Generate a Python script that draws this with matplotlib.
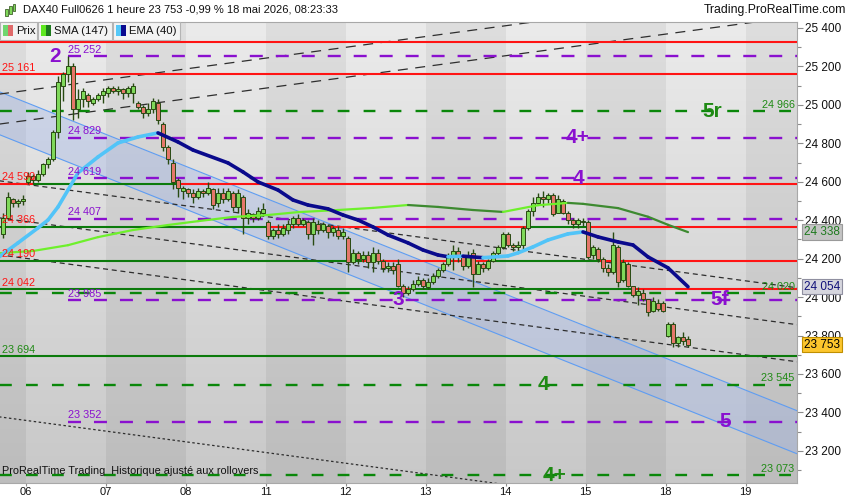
#!/usr/bin/env python3
"""DAX40 hourly chart with Elliott counts, flip levels and trend channel."""
import numpy as np
import matplotlib
matplotlib.use("Agg")
import matplotlib.pyplot as plt
from matplotlib.collections import LineCollection
from matplotlib.colors import LinearSegmentedColormap
from matplotlib.patches import Rectangle
from matplotlib.ticker import FuncFormatter

plt.rcParams["font.family"] = ["Liberation Sans", "DejaVu Sans"]

W, H = 850, 500

# sessions shown (05 and 18 are partial), 16 hourly bars per full session
DAY_LABELS = ["05", "06", "07", "08", "11", "12", "13", "14", "15", "18", "19"]
DAY_COUNTS = [5, 16, 16, 16, 16, 16, 16, 16, 16, 5]
PER_DAY = 16

opens = [
    24330, 24410, 24510, 24490, 24500,
    24600, 24630, 24610, 24640, 24690, 24720, 24860, 25100, 25160, 25200, 24980, 25030, 25050, 25010, 25030, 25050,
    25060, 25090, 25070, 25080, 25060, 25060, 25010, 24990, 24960, 24980, 25010, 24900, 24780, 24700, 24610, 24550,
    24560, 24540, 24520, 24550, 24540, 24560, 24490, 24540, 24510, 24540, 24470, 24520, 24410, 24430, 24410, 24440,
    24390, 24320, 24350, 24330, 24350, 24380, 24410, 24380, 24390, 24330, 24380, 24350, 24370, 24340, 24350, 24320,
    24310, 24180, 24230, 24200, 24220, 24180, 24230, 24190, 24150, 24160, 24170, 24060, 24020, 24040, 24070, 24090,
    24050, 24080, 24110, 24140, 24170, 24220, 24240, 24210, 24160, 24230, 24120, 24170, 24150, 24190, 24230, 24260,
    24330, 24270, 24260, 24270, 24360, 24450, 24490, 24520, 24510, 24530, 24440, 24500, 24440, 24400, 24380, 24390,
    24390, 24220, 24250, 24200, 24150, 24130, 24260, 24090, 24170, 24060, 24010, 24020, 23990, 23930, 23970, 23970,
    23800, 23860, 23760, 23790, 23780,
]
highs = [
    24440, 24545, 24515, 24510, 24530,
    24650, 24640, 24660, 24700, 24730, 24870, 25150, 25170, 25252, 25220, 25080, 25090, 25060, 25040, 25060, 25090,
    25100, 25100, 25100, 25090, 25100, 25114, 25020, 25000, 25010, 25035, 25030, 24910, 24790, 24720, 24620, 24580,
    24570, 24560, 24570, 24560, 24600, 24570, 24570, 24570, 24570, 24550, 24560, 24530, 24460, 24440, 24470, 24490,
    24400, 24360, 24380, 24380, 24400, 24420, 24430, 24410, 24400, 24410, 24400, 24390, 24380, 24370, 24370, 24360,
    24320, 24250, 24240, 24240, 24240, 24260, 24250, 24200, 24180, 24180, 24200, 24070, 24060, 24090, 24110, 24100,
    24100, 24125, 24150, 24180, 24230, 24270, 24260, 24220, 24240, 24250, 24190, 24180, 24200, 24240, 24270, 24340,
    24340, 24280, 24290, 24370, 24460, 24520, 24540, 24550, 24540, 24540, 24530, 24510, 24450, 24410, 24410, 24410,
    24400, 24270, 24260, 24210, 24170, 24340, 24270, 24200, 24180, 24060, 24050, 24040, 23990, 24000, 23990, 23980,
    23870, 23870, 23800, 23820, 23800,
]
lows = [
    24310, 24400, 24470, 24470, 24480,
    24590, 24590, 24600, 24630, 24670, 24710, 24830, 25020, 25120, 24920, 24930, 24990, 24990, 25000, 25020, 25010,
    25040, 25060, 25050, 25030, 25040, 25010, 24980, 24930, 24940, 24960, 24900, 24760, 24690, 24560, 24520, 24510,
    24520, 24490, 24510, 24520, 24530, 24460, 24470, 24490, 24500, 24450, 24440, 24330, 24380, 24390, 24400, 24420,
    24300, 24300, 24310, 24320, 24330, 24360, 24370, 24370, 24300, 24270, 24330, 24340, 24310, 24320, 24300, 24300,
    24130, 24170, 24170, 24180, 24150, 24130, 24170, 24130, 24130, 24120, 24050, 24000, 24010, 24030, 24060, 24040,
    24040, 24070, 24100, 24130, 24160, 24140, 24180, 24140, 24150, 24050, 24120, 24130, 24140, 24180, 24220, 24250,
    24260, 24240, 24230, 24250, 24350, 24420, 24480, 24470, 24490, 24420, 24440, 24430, 24380, 24360, 24360, 24370,
    24200, 24200, 24180, 24130, 24110, 24120, 24050, 24080, 24050, 24000, 23960, 23980, 23900, 23920, 23930, 23920,
    23790, 23740, 23740, 23750, 23740,
]
closes = [
    24410, 24520, 24490, 24500, 24510,
    24630, 24610, 24640, 24690, 24720, 24860, 25120, 25160, 25200, 24980, 25030, 25070, 25020, 25030, 25050, 25070,
    25090, 25070, 25080, 25060, 25090, 25100, 24990, 24960, 24980, 25020, 24920, 24780, 24720, 24600, 24570, 24570,
    24540, 24520, 24550, 24540, 24570, 24480, 24540, 24510, 24550, 24470, 24540, 24410, 24440, 24410, 24450, 24460,
    24320, 24350, 24330, 24360, 24380, 24410, 24380, 24400, 24330, 24390, 24350, 24380, 24340, 24360, 24320, 24340,
    24180, 24230, 24200, 24220, 24180, 24230, 24190, 24150, 24160, 24140, 24060, 24020, 24040, 24070, 24090, 24060,
    24080, 24110, 24140, 24170, 24220, 24240, 24210, 24160, 24220, 24120, 24170, 24150, 24190, 24230, 24260, 24330,
    24270, 24260, 24270, 24360, 24450, 24490, 24520, 24510, 24530, 24430, 24510, 24440, 24400, 24380, 24400, 24395,
    24210, 24260, 24200, 24150, 24130, 24270, 24080, 24180, 24060, 24010, 24030, 23990, 23920, 23980, 23940, 23930,
    23860, 23760, 23790, 23770, 23753,
]

# moving averages at selected bars
sma_slot = [-6, 1, 8, 14, 21, 28, 34, 41, 48, 54, 62, 69, 76, 82, 89, 95, 102, 108, 111, 118, 124, 128, 132]
sma_val = [24228, 24240, 24270, 24312, 24349, 24375, 24395, 24417, 24427, 24442, 24453, 24464, 24479, 24469,
           24453, 24443, 24478, 24490, 24485, 24463, 24418, 24376, 24338]
ema_slot = [-6, -2, 2, 4, 6, 8, 10, 14, 18, 22, 26, 30, 33, 40, 43, 46, 50, 53, 56, 60, 63, 66, 69, 72, 76, 79,
            82, 84, 87, 91, 96, 98, 101, 104, 108, 111, 114, 118, 121, 124, 128, 132]
ema_val = [24205, 24282, 24360, 24401, 24469, 24557, 24646, 24729, 24802, 24833, 24854, 24807, 24765, 24698,
           24651, 24599, 24557, 24505, 24479, 24459, 24427, 24401, 24365, 24323, 24282, 24245, 24219, 24210,
           24213, 24205, 24214, 24230, 24261, 24297, 24329, 24339, 24313, 24287, 24271, 24209, 24152, 24054]

# horizontal levels
red_levels = [25327, 25161]
green_levels = [23694]
flip_levels = [24590, 24366, 24190, 24042]
flip_breaks = [[1, 30], [47.6, 100.4, 111.8], [66.8, 92.4, 114.4], [74.8, 76.4, 121]]
flip_first_above = [False, True, True, True]
left_labels = [25161, 24590, 24366, 24190, 24042, 23694]
purple_levels = [25252, 24829, 24619, 24407, 23985, 23352]
green_dash_levels = [24966, 24020, 23545, 23073]

purple_counts = ["2", "4+", "4", "3", "5f", "5"]
purple_count_slot = [5.4, 110, 110, 74, 138.4, 139.4]
purple_count_level = [25252, 24829, 24619, 23985, 23985, 23352]
green_counts = ["5r", "4", "4+"]
green_count_slot = [136.8, 103, 105.4]
green_count_level = [24966, 23545, 23073]

# trend lines, price at the left (-6) and right (154) bar positions
trend_x = [-6, 154]
falling_start = [24606, 24413, 24221, 23378]
falling_end = [24048, 23856, 23663, 22821]
rising_start = [25055, 24899]
rising_end = [25617, 25461]
channel_upper = [25071, 23407]
channel_lower = [24848, 23183]

RED = "#ff1414"
GREEN = "#0b7a0b"
GREEN_TXT = "#1f8a14"
PURPLE = "#8a10cf"
EDGE = "#284a12"


def fmt(v):
    return f"{int(round(v)):,}".replace(",", " ")


def slope_line(ax, xs, vs, rising, falling, lw):
    pts = np.column_stack([xs, vs])
    segs = np.stack([pts[:-1], pts[1:]], axis=1)
    cols = [rising if b >= a else falling for a, b in zip(vs[:-1], vs[1:])]
    ax.add_collection(LineCollection(segs, colors=cols, linewidths=lw,
                                     capstyle="round", joinstyle="round", zorder=7))


fig = plt.figure(figsize=(W / 100, H / 100), dpi=100)
fig.patch.set_facecolor("white")
ax = fig.add_axes([0, 1 - 483 / H, 797 / W, (483 - 22) / H])
x_lo, x_hi = -5.6, 153.8
y_lo, y_hi = 23033, 25431

bg = LinearSegmentedColormap.from_list("bg", ["#c8c8c8", "#ebebeb"])
ax.imshow(np.linspace(0, 1, 256).reshape(-1, 1), cmap=bg, origin="lower", aspect="auto",
          extent=(x_lo, x_hi, y_lo, y_hi), zorder=0)

# alternate session shading
for j in range(len(DAY_LABELS)):
    start = x_lo if j == 0 else (j - 1) * PER_DAY - 0.5
    end = x_hi if j == len(DAY_LABELS) - 1 else j * PER_DAY - 0.5
    if j % 2 == 0:
        ax.axvspan(start, end, color="black", alpha=0.055, lw=0, zorder=0.5)

# regression channel
ax.fill_between(trend_x, channel_lower, channel_upper, color="#98b0ec", alpha=0.33, lw=0, zorder=1)
ax.plot(trend_x, channel_upper, color="#5f9df2", lw=0.8, zorder=1.2)
ax.plot(trend_x, channel_lower, color="#5f9df2", lw=0.8, zorder=1.2)

# dashed trend lines
for a, b in zip(falling_start[:3], falling_end[:3]):
    ax.plot(trend_x, [a, b], color="#2e2e2e", lw=0.9, ls=(0, (4, 3)), zorder=2)
ax.plot(trend_x, [falling_start[3], falling_end[3]], color="#2e2e2e", lw=0.9, ls=(0, (2, 2)), zorder=2)
for a, b in zip(rising_start, rising_end):
    ax.plot(trend_x, [a, b], color="#2e2e2e", lw=0.9, ls=(0, (8, 6)), zorder=2)

# horizontal levels
for lv in red_levels:
    ax.hlines(lv, x_lo, x_hi, color=RED, lw=1.5, zorder=3)
for lv in green_levels:
    ax.hlines(lv, x_lo, x_hi, color=GREEN, lw=1.5, zorder=3)
for lv, brk, above in zip(flip_levels, flip_breaks, flip_first_above):
    edges = [x_lo] + brk + [x_hi]
    for s, e in zip(edges[:-1], edges[1:]):
        ax.hlines(lv, s, e, color=GREEN if above else RED, lw=1.5, zorder=3)
        above = not above
for lv in purple_levels:
    ax.hlines(lv, 8, x_hi, color=PURPLE, lw=1.7, ls=(0, (5.5, 5.5)), zorder=3)
for lv in green_dash_levels:
    ax.hlines(lv, x_lo, x_hi, color="#0a870a", lw=1.7, ls=(0, (5, 6)), zorder=3)

# level labels
for lv in left_labels:
    col = GREEN_TXT if lv in green_levels else RED
    ax.annotate(fmt(lv), xy=(0.003, lv), xycoords=("axes fraction", "data"), xytext=(0, 1),
                textcoords="offset points", ha="left", va="bottom", fontsize=7.8, color=col, zorder=9)
for lv in purple_levels:
    ax.annotate(fmt(lv), xy=(8, lv), xytext=(0, 1), textcoords="offset points",
                ha="left", va="bottom", fontsize=7.8, color=PURPLE, zorder=9)
for lv in green_dash_levels:
    ax.annotate(fmt(lv), xy=(0.997, lv), xycoords=("axes fraction", "data"), xytext=(0, 1),
                textcoords="offset points", ha="right", va="bottom", fontsize=7.8, color=GREEN_TXT, zorder=9)

for t, s, lv in zip(purple_counts, purple_count_slot, purple_count_level):
    ax.text(s, lv, t, ha="center", va="center", fontsize=15, weight="bold", color=PURPLE, zorder=9)
for t, s, lv in zip(green_counts, green_count_slot, green_count_level):
    ax.text(s, lv, t, ha="center", va="center", fontsize=15, weight="bold", color=GREEN_TXT, zorder=9)

# candles
slots = []
for j, n in enumerate(DAY_COUNTS):
    if j == 0:
        slots += list(range(-n, 0))
    else:
        slots += [(j - 1) * PER_DAY + k for k in range(n)]
slots = np.array(slots)
o, hi, lo, c = (np.array(a, dtype=float) for a in (opens, highs, lows, closes))
up = c >= o
ax.vlines(slots, lo, hi, color=EDGE, lw=1.0, zorder=4)
ax.bar(slots, np.maximum(np.abs(c - o), 3), bottom=np.minimum(o, c), width=0.62,
       color=np.where(up, "#7fd85a", "#e5776a"), edgecolor=EDGE, linewidth=0.7, zorder=5)

# moving averages
slope_line(ax, sma_slot, sma_val, "#6ef02c", "#3d8a30", 1.6)
slope_line(ax, ema_slot, ema_val, "#52c4f8", "#0a0a8c", 2.6)

ax.set_xlim(x_lo, x_hi)
ax.set_ylim(y_lo, y_hi)

# axes, ticks
ax.yaxis.tick_right()
ax.set_yticks(np.arange(23200, 25401, 200))
ax.set_yticks(np.arange(23100, 25431, 100), minor=True)
ax.yaxis.set_major_formatter(FuncFormatter(lambda v, _: fmt(v)))
ax.tick_params(axis="y", which="major", length=4, width=0.8, color="#8c8c8c",
               labelsize=8.5, pad=2, labelcolor="#111111")
ax.tick_params(axis="y", which="minor", length=3, width=0.8, color="#8c8c8c")
ax.set_xticks([(j - 1) * PER_DAY - 0.5 for j in range(1, len(DAY_LABELS))])
ax.set_xticklabels(DAY_LABELS[1:])
ax.tick_params(axis="x", length=2, width=0.8, color="#8c8c8c", labelsize=8, pad=1, labelcolor="#111111")
ax.spines["left"].set_visible(False)
for side in ("top", "right", "bottom"):
    ax.spines[side].set_color("#a8a8a8")
    ax.spines[side].set_linewidth(0.8)

# last value tags
tags = [(sma_val[-1], "#1f7a1f", "#c4c4c4", "#9a9a9a"),
        (ema_val[-1], "#12127a", "#d6d6de", "#8f8fa0"),
        (closes[-1], "#000000", "#fcc62d", "#c08f00")]
for v, tc, fc, ec in tags:
    ax.annotate(fmt(v), xy=(1, v), xycoords=("axes fraction", "data"), xytext=(5, 0),
                textcoords="offset points", ha="left", va="center", fontsize=8.5, color=tc,
                bbox=dict(boxstyle="square,pad=0.15", fc=fc, ec=ec, lw=0.8),
                annotation_clip=False, zorder=10)

ax.annotate("ProRealTime Trading  Historique ajusté aux rollovers", xy=(0.003, 0.015),
            xycoords="axes fraction", ha="left", va="bottom", fontsize=7.8, color="#111111", zorder=10)


# header and legend bar (figure pixels)
def px_rect(x0, y0, x1, y1, **kw):
    fig.add_artist(Rectangle((x0 / W, 1 - y1 / H), (x1 - x0) / W, (y1 - y0) / H,
                             transform=fig.transFigure, **kw))


for bx, top, bot in [(5, 9, 16), (9, 6, 14), (13, 4, 11)]:
    px_rect(bx, top, bx + 2.5, bot, fc="#7fd85a", ec=EDGE, lw=0.5)
fig.text(23 / W, 1 - 10 / H, "DAX40 Full0626 1 heure 23 753 -0,99 % 18 mai 2026, 08:23:33",
         ha="left", va="center", fontsize=8.0, color="#111111")
fig.text(846 / W, 1 - 10 / H, "Trading.ProRealTime.com", ha="right", va="center",
         fontsize=8.8, color="#111111")

legend = [("Prix", 0, 37, "#6fd66f", "#e06a6a"),
          ("SMA (147)", 38, 112, "#5ee820", "#1e7a1e"),
          ("EMA (40)", 113, 180, "#55c8f8", "#0a0a90")]
for name, x0, x1, c1, c2 in legend:
    px_rect(x0, 22, x1, 40, fc="#f3f3f3", ec="#b4b4b4", lw=0.8, zorder=20)
    px_rect(x0 + 3, 25, x0 + 8, 36, fc=c1, ec="none", zorder=21)
    px_rect(x0 + 8, 25, x0 + 13, 36, fc=c2, ec="none", zorder=21)
    fig.text((x0 + 16) / W, 1 - 31 / H, name, ha="left", va="center", fontsize=8.2,
             color="#111111", zorder=22)

fig.savefig("out.png", dpi=100, facecolor="white")
